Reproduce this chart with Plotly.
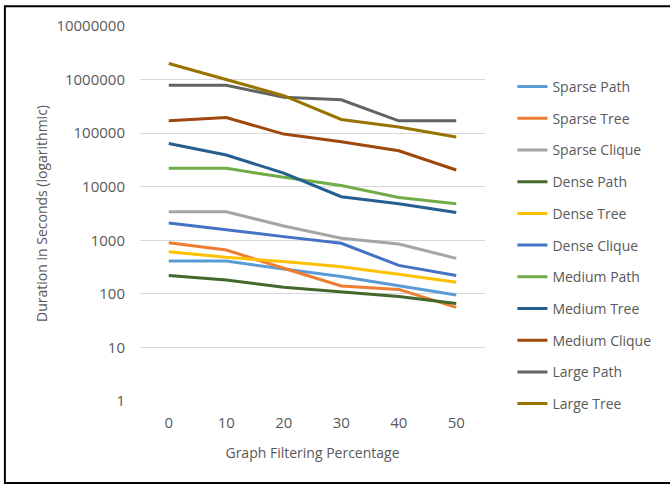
import plotly.graph_objects as go

# Graph filtering percentage (x categories)
filtering = ["0", "10", "20", "30", "40", "50"]

# Duration in seconds for each graph type
sparse_path = [410, 410, 290, 210, 142, 95]
sparse_tree = [900, 660, 300, 140, 121, 56]
sparse_clique = [3400, 3400, 1850, 1090, 850, 460]
dense_path = [220, 182, 133, 110, 89, 66]
dense_tree = [610, 480, 400, 320, 232, 164]
dense_clique = [2100, 1550, 1170, 880, 340, 220]
medium_path = [22000, 22000, 15000, 10500, 6300, 4800]
medium_tree = [64000, 39000, 18000, 6500, 4800, 3300]
medium_clique = [170000, 195000, 96000, 69000, 47000, 20500]
large_path = [780000, 780000, 470000, 420000, 170000, 170000]
large_tree = [2000000, 1000000, 500000, 180000, 130000, 85000]

y_tick_values = [1, 10, 100, 1000, 10000, 100000, 1000000, 10000000]
y_tick_labels = ["1", "10", "100", "1000", "10000", "100000", "1000000", "10000000"]

series = [
    ("Sparse Path", sparse_path, "#5B9BD5"),
    ("Sparse Tree", sparse_tree, "#ED7D31"),
    ("Sparse Clique", sparse_clique, "#A5A5A5"),
    ("Dense Path", dense_path, "#43682B"),
    ("Dense Tree", dense_tree, "#FFC000"),
    ("Dense Clique", dense_clique, "#4472C4"),
    ("Medium Path", medium_path, "#70AD47"),
    ("Medium Tree", medium_tree, "#255E91"),
    ("Medium Clique", medium_clique, "#9E480E"),
    ("Large Path", large_path, "#636363"),
    ("Large Tree", large_tree, "#997300"),
]

FONT = "Open Sans"
TEXT = "#595959"

fig = go.Figure()
for name, vals, color in series:
    fig.add_trace(go.Scatter(
        x=filtering, y=vals, name=name, mode="lines",
        legendgroup=name,
        line=dict(color=color, width=3),
    ))

W, H = 670, 485
L, R, T, B = 139.5, 184.5, 26, 84
pw, ph = W - L - R, H - T - B


def px_x(p):
    return (p - L) / pw


def px_y(p):
    return (H - B - p) / ph


fig.update_layout(
    width=W, height=H,
    margin=dict(l=L, r=R, t=T, b=B, pad=0),
    paper_bgcolor="white", plot_bgcolor="white",
    font=dict(family=FONT, size=14, color=TEXT),
    showlegend=True,
    legend=dict(
        x=px_x(513), y=px_y(71), xanchor="left", yanchor="top",
        font=dict(family=FONT, size=14, color=TEXT),
        tracegroupgap=10.5, bgcolor="rgba(0,0,0,0)",
    ),
    xaxis=dict(
        type="category", range=[-0.5, 5.5],
        showgrid=False, zeroline=False, showline=False,
        ticks="", tickfont=dict(family=FONT, size=15, color=TEXT),
        ticklabelstandoff=11,
        title=dict(text="Graph Filtering Percentage",
                   font=dict(family=FONT, size=14, color=TEXT), standoff=17),
    ),
    yaxis=dict(
        type="log", range=[0, 7],
        tickvals=y_tick_values, ticktext=y_tick_labels,
        showgrid=True, gridcolor="#D9D9D9", gridwidth=1,
        zeroline=False, showline=False,
        ticks="", tickfont=dict(family=FONT, size=15, color=TEXT),
        ticklabelstandoff=14,
        title=dict(text="Duration in Seconds (logarithmic)",
                   font=dict(family=FONT, size=14, color=TEXT), standoff=5),
    ),
    shapes=[dict(
        type="rect", xref="paper", yref="paper",
        x0=px_x(4), x1=px_x(673), y0=px_y(483), y1=px_y(6.3),
        line=dict(color="black", width=2), fillcolor="rgba(0,0,0,0)",
        layer="below",
    )],
)

fig.write_html("out.html")
